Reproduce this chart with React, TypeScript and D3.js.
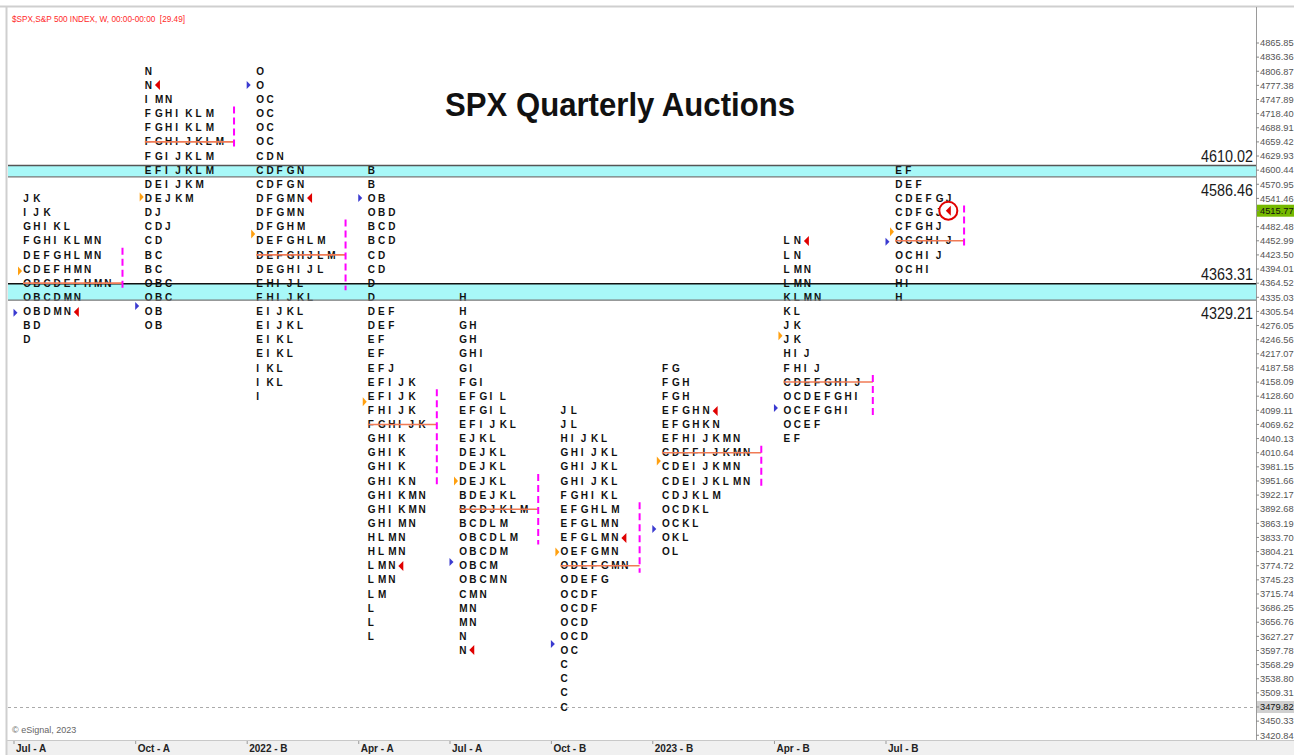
import React from "react";
import * as d3 from "d3";

const W = 1294;
const H = 755;

// ---- price axis ----
const TICK_TOP = 4865.85;
const TICK_STEP = 29.49;
const TICK_COUNT = 50;
const LAST_PRICE = 4515.77;
const CURSOR_PRICE = 3479.82;

// ---- quarters (x axis) ----
const quarters = ["Jul - A", "Oct - A", "2022 - B", "Apr - A", "Jul - A", "Oct - B", "2023 - B", "Apr - B", "Jul - B"];

// price of the first (top) TPO row of each quarter
const profileTop = [4541.46, 4806.87, 4806.87, 4600.44, 4335.03, 4099.11, 4187.58, 4452.99, 4600.44];

// TPO rows, top to bottom
const profileRows: string[][] = [
  ["J K", "I J K", "G H I K L", "F G H I K L M N", "D E F G H L M N", "C D E F H M N", "O B C D E F H M N", "O B C D M N", "O B D M N", "B D", "D"],
  ["N", "N", "I M N", "F G H I K L M", "F G H I K L M", "F G H I J K L M", "F G I J K L M", "E F I J K L M", "D E I J K M", "D E J K M", "D J", "C D J", "C D", "B C", "B C", "O B C", "O B C", "O B", "O B"],
  ["O", "O", "O C", "O C", "O C", "O C", "C D N", "C D F G N", "C D F G N", "D F G M N", "D F G M N", "D F G H M", "D E F G H L M", "D E F G H J L M", "D E G H I J L", "E H I J L", "F H I J K L", "E I J K L", "E I J K L", "E I K L", "E I K L", "I K L", "I K L", "I"],
  ["B", "B", "O B", "O B D", "B C D", "B C D", "C D", "C D", "D", "D", "D E F", "D E F", "E F", "E F", "E F J", "E F I J K", "E F I J K", "F H I J K", "F G H I J K", "G H I K", "G H I K", "G H I K", "G H I K N", "G H I K M N", "G H I K M N", "G H I M N", "H L M N", "H L M N", "L M N", "L M N", "L M", "L", "L", "L"],
  ["H", "H", "G H", "G H", "G H I", "G I", "F G I", "E F G I L", "E F G I L", "E F I J K L", "E J K L", "D E J K L", "D E J K L", "D E J K L", "B D E J K L", "B C D J K L M", "B C D L M", "O B C D L M", "O B C D M", "O B C M", "O B C M N", "C M N", "M N", "M N", "N", "N"],
  ["J L", "J L", "H I J K L", "G H I J K L", "G H I J K L", "G H I J K L", "F G H I K L", "E F G H L M", "E F G L M N", "E F G L M N", "O E F G M N", "O D E F G M N", "O D E F G", "O C D F", "O C D F", "O C D", "O C D", "O C", "C", "C", "C", "C"],
  ["F G", "F G H", "F G H", "E F G H N", "E F G H K N", "E F H I J K M N", "C D E F I J K M N", "C D E I J K M N", "C D E I J K L M N", "C D J K L M", "O C D K L", "O C K L", "O K L", "O L"],
  ["L N", "L N", "L M N", "L M N", "K L M N", "K L", "J K", "J K", "H I J", "F H I J", "C D E F G H I J", "O C D E F G H I", "O C E F G H I", "O C E F", "E F"],
  ["E F", "D E F", "C D E F G J", "C D F G J", "C F G H J", "O C G H I J", "O C H I J", "O C H I", "H I", "H"],
];

// point of control and value area (prices)
const pocPrice = [4364.52, 4659.42, 4423.5, 4069.62, 3892.68, 3774.72, 4010.64, 4158.09, 4452.99];
const vaHigh = [4423.5, 4718.4, 4482.48, 4128.6, 3951.66, 3892.68, 4010.64, 4158.09, 4511.97];
const vaLow = [4364.52, 4659.42, 4364.52, 3951.66, 3833.7, 3774.72, 3951.66, 4099.11, 4452.99];

// markers: open (blue), mid (orange), close (red)
const openPrice = [4302.9, 4316.9, 4778.2, 4542.3, 3782.5, 3611.4, 3851.4, 4104.0, 4451.1];
const midPrice = [4390.0, 4544.2, 4467.2, 4117.1, 3951.6, 3803.4, 3993.3, 4254.9, 4472.0];
const closePrice = [4304.4, 4778.2, 4542.3, 3774.2, 3598.9, 3832.6, 4097.7, 4452.6, 4515.77];

// horizontal zones
const bandHigh = [4610.02, 4363.31];
const bandLow = [4586.46, 4329.21];

const FONT = "'Liberation Sans', Arial, sans-serif";

export default function App() {
  const plotL = 7, plotR = 1256, plotT = 7, plotB = 740;

  const ys = d3.scaleLinear().domain([4865.85, 3479.82]).range([43, 707]);
  const rowH = Math.abs(ys(TICK_TOP) - ys(TICK_TOP - TICK_STEP));

  const maxLen = profileRows.map((rows) => d3.max(rows, (r) => r.split(" ").length) as number);
  const colSlot: number[] = [];
  let acc = 0;
  maxLen.forEach((m) => {
    colSlot.push(acc);
    acc += m + 3;
  });
  const xs = d3.scaleLinear().domain([0, colSlot[colSlot.length - 1]]).range([14, 886]);

  const rowIndex = (c: number, p: number) => Math.round((profileTop[c] - p) / TICK_STEP);
  const rowLen = (c: number, p: number) => {
    const r = profileRows[c][rowIndex(c, p)];
    return r ? r.split(" ").length : 0;
  };

  const ticks = d3.range(TICK_COUNT).map((i) => TICK_TOP - i * TICK_STEP);

  return (
    <svg width={W} height={H} style={{ position: "fixed", left: 0, top: 0, background: "#fff" }} fontFamily={FONT}>
      <rect x={0} y={0} width={W} height={H} fill="#fff" />
      {/* bottom axis strip */}
      <rect x={plotL} y={plotB} width={W - plotL} height={H - plotB} fill="#f0f0f0" />
      <line x1={plotL} x2={W} y1={plotB + 0.5} y2={plotB + 0.5} stroke="#c8c8c8" />
      {/* frame */}
      <line x1={0} x2={W} y1={6.5} y2={6.5} stroke="#cfcfcf" strokeWidth={2} />
      <line x1={6.5} x2={6.5} y1={6} y2={H} stroke="#cfcfcf" strokeWidth={2} />
      <line x1={plotR + 0.5} x2={plotR + 0.5} y1={7} y2={plotB} stroke="#9a9a9a" />

      {/* bands */}
      {bandHigh.map((hi, i) => (
        <rect key={"band" + i} x={plotL + 1} width={plotR - plotL - 1} y={ys(hi)} height={ys(bandLow[i]) - ys(hi)} fill="#a8f8f8" />
      ))}

      {/* cursor dashed line */}
      <line x1={plotL + 1} x2={plotR} y1={ys(CURSOR_PRICE) + 0.5} y2={ys(CURSOR_PRICE) + 0.5} stroke="#aaaaaa" strokeDasharray="3,3" />

      {/* header */}
      <text x={12} y={22} fontSize={9} fill="#ff2a2a" textLength={173} lengthAdjust="spacingAndGlyphs" xmlSpace="preserve">
        {"$SPX,S&P 500 INDEX, W, 00:00-00:00  [29.49]"}
      </text>
      <text x={445} y={116} fontSize={34} fontWeight="bold" fill="#111" textLength={350} lengthAdjust="spacingAndGlyphs">
        SPX Quarterly Auctions
      </text>

      {/* TPO letters */}
      {profileRows.map((rows, c) => (
        <g key={"col" + c}>
          {rows.map((r, i) =>
            r.split(" ").map((L, k) => (
              <text
                key={c + "-" + i + "-" + k}
                x={xs(colSlot[c] + 0.9 + k)}
                y={ys(profileTop[c] - i * TICK_STEP)}
                dy="0.36em"
                fontSize={10}
                fontWeight="bold"
                fill="#111"
              >
                {L}
              </text>
            ))
          )}
        </g>
      ))}

      {/* band borders on top */}
      {bandHigh.map((hi, i) => (
        <g key={"bandl" + i}>
          <line x1={plotL + 1} x2={plotR} y1={ys(hi)} y2={ys(hi)} stroke={i === 0 ? "#555" : "#111"} strokeWidth={1.4} />
          <line x1={plotL + 1} x2={plotR} y1={ys(bandLow[i])} y2={ys(bandLow[i])} stroke="#777" strokeWidth={1.4} />
          <text x={1253} y={ys(hi) - 4} textAnchor="end" fontSize={17} fill="#1a1a1a" textLength={52} lengthAdjust="spacingAndGlyphs">
            {hi.toFixed(2)}
          </text>
          <text x={1253} y={ys(bandLow[i]) + 19} textAnchor="end" fontSize={17} fill="#1a1a1a" textLength={52} lengthAdjust="spacingAndGlyphs">
            {bandLow[i].toFixed(2)}
          </text>
        </g>
      ))}

      {/* POC lines and value areas */}
      {pocPrice.map((p, c) => {
        const n = rowLen(c, p);
        const xEnd = xs(colSlot[c] + n + 1.7);
        return (
          <g key={"poc" + c}>
            <line x1={xs(colSlot[c] + 0.9)} x2={xEnd} y1={ys(p)} y2={ys(p)} stroke="#f07a55" strokeWidth={1.6} />
            <line x1={xEnd} x2={xEnd} y1={ys(vaHigh[c]) - rowH / 2} y2={ys(vaLow[c]) + rowH / 2} stroke="#ff00ff" strokeWidth={2} strokeDasharray="7,4" />
          </g>
        );
      })}

      {/* markers */}
      {quarters.map((q, c) => {
        const x0 = xs(colSlot[c]);
        const yo = ys(openPrice[c]);
        const ym = ys(midPrice[c]);
        const yc = ys(closePrice[c]);
        const xc = xs(colSlot[c] + 0.9 + rowLen(c, closePrice[c]));
        return (
          <g key={"mk" + c}>
            <path d={`M${x0 - 0.5},${yo - 4}L${x0 + 3.5},${yo}L${x0 - 0.5},${yo + 4}Z`} fill="#3a3ad0" />
            <path d={`M${x0 + 4},${ym - 4.5}L${x0 + 8},${ym}L${x0 + 4},${ym + 4.5}Z`} fill="#ffa010" />
            {c === quarters.length - 1 && (
              <circle cx={xc + 2.5} cy={yc} r={9} fill="#fff" stroke="#e00000" strokeWidth={2} />
            )}
            <path d={`M${xc + 5},${yc - 5}L${xc},${yc}L${xc + 5},${yc + 5}Z`} fill="#e00000" />
          </g>
        );
      })}

      {/* right price axis */}
      {ticks.map((t, i) => {
        const isLast = i === 12;
        const isCursor = Math.abs(t - CURSOR_PRICE) < 0.01;
        const val = isLast ? LAST_PRICE : t;
        const y = ys(val);
        return (
          <g key={"tk" + i}>
            {isLast && <rect x={plotR + 1} y={y - 6} width={W - plotR} height={12} fill="#76b900" />}
            {isCursor && <rect x={plotR + 1} y={y - 6} width={W - plotR} height={12} fill="#d0d0d0" />}
            <line x1={plotR} x2={plotR + 3} y1={y} y2={y} stroke="#888" />
            <text x={plotR + 4} y={y} dy="0.35em" fontSize={9.3} fill={isLast || isCursor ? "#111" : "#555"}>
              {val.toFixed(2)}
            </text>
          </g>
        );
      })}

      {/* bottom axis */}
      {quarters.map((q, c) => (
        <g key={"xq" + c}>
          <line x1={xs(colSlot[c])} x2={xs(colSlot[c])} y1={plotB + 1} y2={plotB + 4} stroke="#999" />
          <text x={xs(colSlot[c]) + 2} y={752} fontSize={10} fontWeight="bold" fill="#222">
            {q}
          </text>
        </g>
      ))}

      <text x={12} y={733} fontSize={9} fill="#666">
        © eSignal, 2023
      </text>
    </svg>
  );
}
